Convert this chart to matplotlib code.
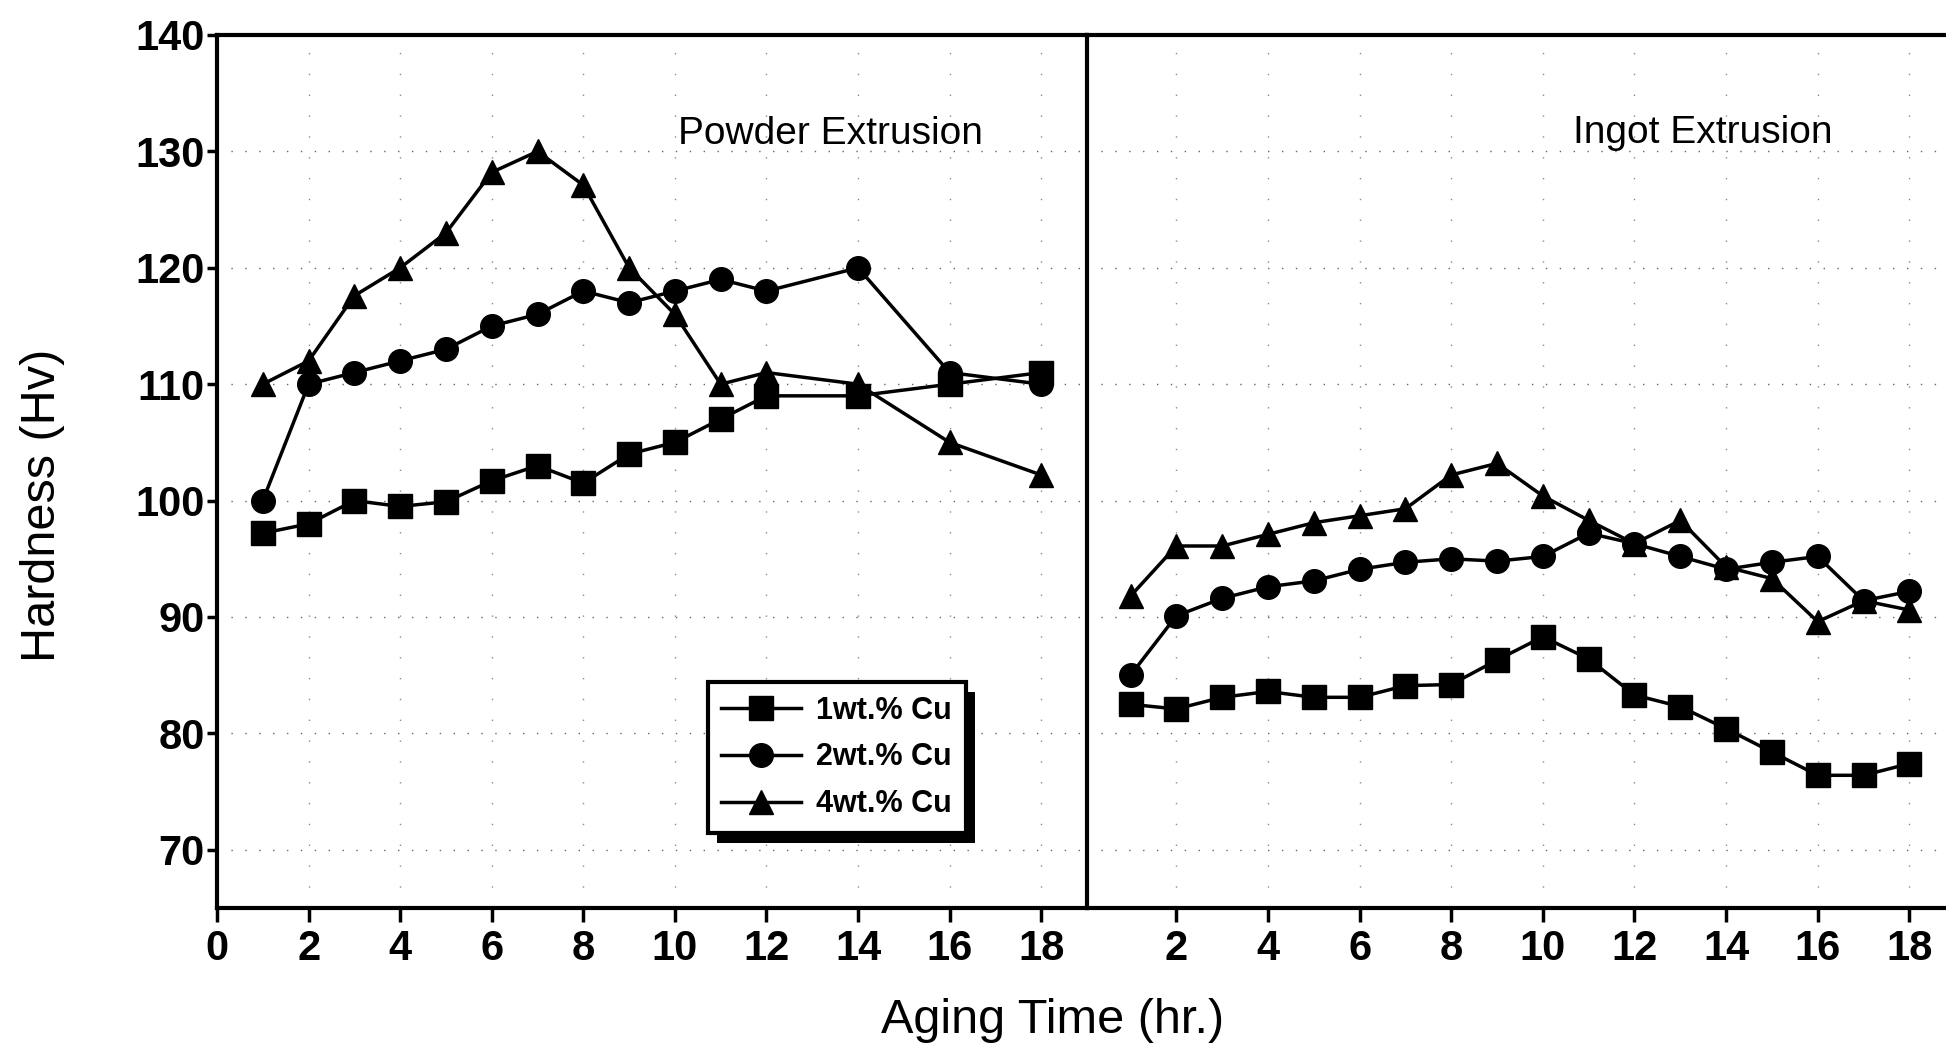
import matplotlib
matplotlib.use("Agg")
import matplotlib.pyplot as plt
import matplotlib.patheffects as pe

plt.rcParams['font.family'] = ['Liberation Sans', 'DejaVu Sans']

# Powder extrusion (left panel)
powder_t = [1, 2, 3, 4, 5, 6, 7, 8, 9, 10, 11, 12, 14, 16, 18]
powder_cu1 = [97.2, 98, 100, 99.5, 99.9, 101.7, 103, 101.5, 104, 105, 107, 109, 109, 110, 111]
powder_cu2 = [100, 110, 111, 112, 113, 115, 116, 118, 117, 118, 119, 118, 120, 111, 110]
powder_cu4 = [110, 112, 117.6, 120, 123, 128.2, 130, 127.1, 120, 116, 110, 111, 110, 105, 102.2]

# Ingot extrusion (right panel)
ingot_t = [1, 2, 3, 4, 5, 6, 7, 8, 9, 10, 11, 12, 13, 14, 15, 16, 17, 18]
ingot_cu1 = [82.5, 82.1, 83.1, 83.6, 83.1, 83.1, 84.1, 84.2, 86.3, 88.3, 86.4, 83.3, 82.3, 80.4, 78.4, 76.4, 76.4, 77.4]
ingot_cu2 = [85, 90.1, 91.6, 92.6, 93.1, 94.1, 94.7, 95, 94.8, 95.2, 97.2, 96.3, 95.2, 94.1, 94.7, 95.2, 91.4, 92.2]
ingot_cu4 = [91.8, 96.1, 96.1, 97.1, 98.1, 98.7, 99.3, 102.2, 103.2, 100.4, 98.3, 96.3, 98.3, 94.3, 93.3, 89.6, 91.4, 90.6]

labels = ['1wt.% Cu', '2wt.% Cu', '4wt.% Cu']
markers = ['s', 'o', '^']
yticks = [70, 80, 90, 100, 110, 120, 130, 140]
xticks_left = [0, 2, 4, 6, 8, 10, 12, 14, 16, 18]
xticks_right = [2, 4, 6, 8, 10, 12, 14, 16, 18]

fig = plt.figure(figsize=(19.46, 10.52), dpi=100)
axl = fig.add_axes([217 / 1946, 1 - 908 / 1052, 870 / 1946, 873 / 1052])
axr = fig.add_axes([1087 / 1946, 1 - 908 / 1052, 859 / 1946, 873 / 1052])

tick_font = dict(fontsize=30, fontweight='bold')

for ax in (axl, axr):
    ax.set_ylim(65, 140)
    for s in ax.spines.values():
        s.set_linewidth(3)
    ax.set_yticks(yticks)
    ax.grid(True, axis='y', color='0.4', lw=1, linestyle=(0, (1, 9)))
    ax.grid(True, axis='x', color='0.55', lw=1, linestyle=(0, (1, 14)))
    ax.tick_params(axis='x', direction='out', length=10, width=2.5, pad=5)
    ax.tick_params(axis='y', direction='out', length=7, width=2.5, pad=2)

axl.set_xlim(0, 19)
axl.set_xticks(xticks_left)
axl.set_xticklabels([str(v) for v in xticks_left], **tick_font)
axl.set_yticklabels([str(v) for v in yticks], **tick_font)
axl.spines['right'].set_visible(False)

axr.set_xlim(0.05, 18.8)
axr.set_xticks(xticks_right)
axr.set_xticklabels([str(v) for v in xticks_right], **tick_font)
axr.tick_params(axis='y', left=False, labelleft=False)
axr.spines['right'].set_visible(False)

style = dict(color='black', lw=2.5, markersize=17, markerfacecolor='black', markeredgecolor='black')
handles = []
for ys, m, lab in zip([powder_cu1, powder_cu2, powder_cu4], markers, labels):
    h, = axl.plot(powder_t, ys, marker=m, label=lab, **style)
    handles.append(h)
for ys, m in zip([ingot_cu1, ingot_cu2, ingot_cu4], markers):
    axr.plot(ingot_t, ys, marker=m, **style)

axl.text(13.4, 131.5, 'Powder Extrusion', fontsize=28, ha='center', va='center')
axr.text(13.5, 131.6, 'Ingot Extrusion', fontsize=28, ha='center', va='center')

leg = axl.legend(handles=handles, loc='upper left', bbox_to_anchor=(0.564, 0.259),
                 prop=dict(size=22, weight='bold'), frameon=True, fancybox=False,
                 edgecolor='black', framealpha=1, borderpad=0.45, labelspacing=0.55,
                 handlelength=2.6, handletextpad=0.5, borderaxespad=0)
frame = leg.get_frame()
frame.set_linewidth(3)
frame.set_path_effects([pe.SimplePatchShadow(offset=(7, -7), shadow_rgbFace='black', alpha=1),
                        pe.Normal()])

fig.text(0.022, 0.52, 'Hardness (Hv)', rotation=90, fontsize=35, ha='center', va='center')
fig.text(0.541, 0.03, 'Aging Time (hr.)', fontsize=35, ha='center', va='center')

fig.savefig('out.png', dpi=100)
